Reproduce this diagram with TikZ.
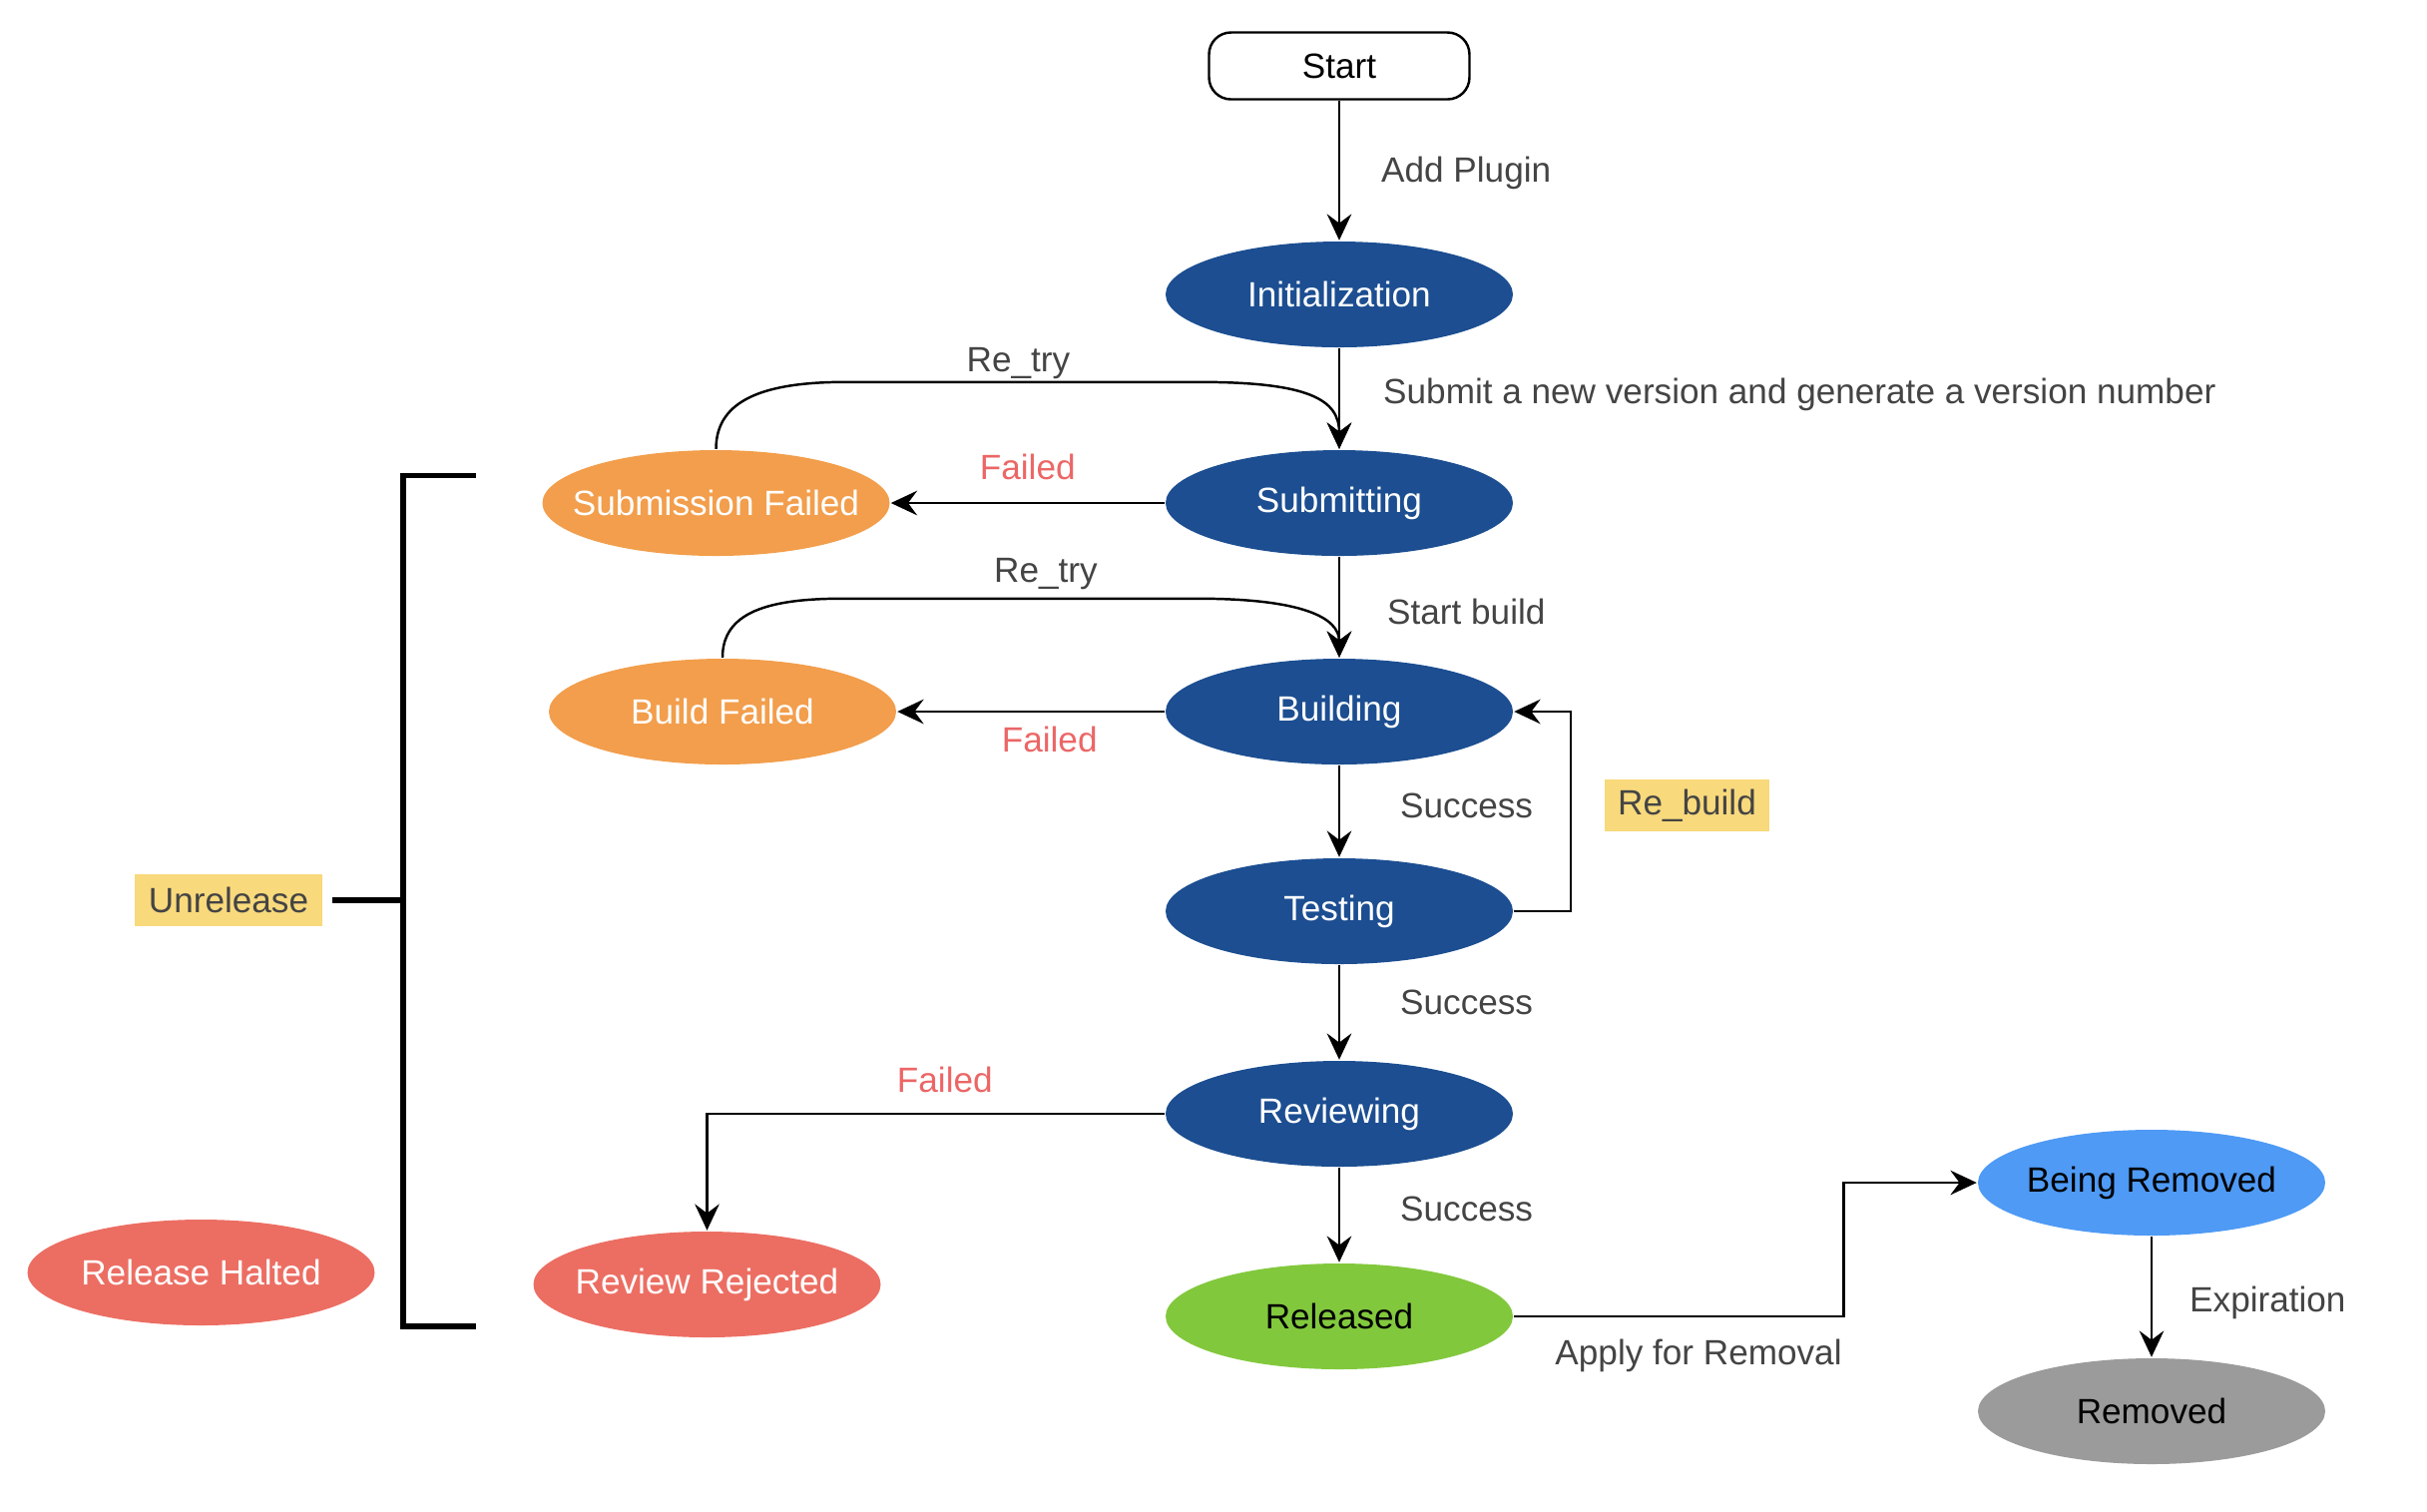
\documentclass[tikz,border=0pt]{standalone}
\usepackage{fontspec}
\setmainfont{Liberation Sans}
\usetikzlibrary{arrows.meta,positioning,shapes.geometric}

\definecolor{runblue}{HTML}{1C4E91}
\definecolor{failorange}{HTML}{F29E4C}
\definecolor{rejectred}{HTML}{EC6E63}
\definecolor{releasegreen}{HTML}{82C83D}
\definecolor{removeblue}{HTML}{4E9AF5}
\definecolor{removedgray}{HTML}{9B9B9B}
\definecolor{tagyellow}{HTML}{F8D97C}
\definecolor{labelgray}{HTML}{444444}
\definecolor{failred}{HTML}{EC6666}

\tikzset{
  state/.style={ellipse,minimum width=3.48cm,minimum height=1.06cm,inner xsep=-0.5cm,inner ysep=0pt,
    font=\fontsize{10}{12}\selectfont},
  running/.style={state,fill=runblue,text=white},
  failing/.style={state,fill=failorange,text=white},
  rejected/.style={state,fill=rejectred,text=white},
  released/.style={state,fill=releasegreen,text=black},
  removing/.style={state,fill=removeblue,text=black},
  gone/.style={state,fill=removedgray,text=black},
  startbox/.style={draw,rounded corners=0.22cm,minimum width=2.61cm,minimum height=0.67cm,
    inner sep=0pt,font=\fontsize{10}{12}\selectfont},
  tag/.style={fill=tagyellow,text=labelgray,minimum height=0.52cm,inner sep=0pt,
    font=\fontsize{10}{12}\selectfont},
  lbl/.style={on grid=false,inner sep=0pt,text=labelgray,font=\fontsize{10}{12}\selectfont},
  faillbl/.style={lbl,text=failred},
  flowline/.style={->},
  bracketline/.style={line width=1.5pt,line join=miter}
}

\begin{document}
\begin{tikzpicture}[>={Stealth[length=7.5pt,width=7pt,inset=2.6pt]},line width=0.7pt,node distance=2.09cm,on grid]
  \useasboundingbox (0,0) rectangle (24.32,-15.14);

  \node[startbox]  (start)     at (13.42,-0.66)                    {Start};
  \node[running]   (init)      [below =2.29cm of start]            {Initialization};
  \node[running]   (sub)       [below =of init]                    {Submitting};
  \node[running]   (build)     [below =of sub]                     {Building};
  \node[running]   (test)      [below =2cm of build]               {Testing};
  \node[running]   (rev)       [below =2.03cm of test]             {Reviewing};
  \node[released]  (rel)       [below =2.03cm of rev]              {Released};
  \node[failing]   (subfail)   [left =6.245cm of sub]              {Submission Failed};
  \node[failing]   (buildfail) [left =6.18cm of build]             {Build Failed};
  \node[rejected]  (revrej)    [below left =1.71cm and 6.335cm of rev] {Review Rejected};
  \node[rejected]  (halted)    [above left =0.12cm and 5.07cm of revrej] {Release Halted};
  \node[removing]  (br)        [above right =1.34cm and 8.14cm of rel] {Being Removed};
  \node[gone]      (rem)       [below =2.29cm of br]               {Removed};
  \node[tag,minimum width=1.88cm] (unrel)   at (2.29,-9.02)        {Unrelease};
  \node[tag,minimum width=1.65cm] (rebuild) at (16.905,-8.07)      {Re\_build};

\path (start) edge [flowline] node [lbl, right=0.41cm, yshift=-0.03cm] {Add Plugin} (init)
      (init)  edge [flowline] node [lbl, right=0.43cm, yshift=0.045cm] {Submit a new version and generate a version number} (sub)
      (sub)   edge [flowline] node [lbl, right=0.47cm, yshift=-0.045cm] {Start build} (build)
      (build) edge [flowline] node [lbl, right=0.6cm, yshift=0.06cm] {Success} (test)
      (test)  edge [flowline] node [lbl, right=0.6cm, yshift=0.1cm] {Success} (rev)
      (rev)   edge [flowline] node [lbl, right=0.6cm, yshift=0.06cm] {Success} (rel)
      (br)    edge [flowline] node [lbl, right=0.37cm, yshift=-0.06cm] {Expiration} (rem)
      (sub)   edge [flowline] node [faillbl, above=0.22cm] {Failed} (subfail)
      (build) edge [flowline] node [faillbl, pos=0.43, below=0.14cm] {Failed} (buildfail);

% retry loops
\draw[flowline] (subfail.north) .. controls +(0,0.5) and +(-0.8,0) .. ++(1.3,0.67)
      -- node [lbl, pos=0.49, above=0.02cm] {Re\_try} ++(3.53,0)
      .. controls +(1.1,0) and +(0,0.5) .. (sub.north);
\draw[flowline] (buildfail.north) .. controls +(0,0.45) and +(-0.75,0) .. ++(1.2,0.59)
      -- node [lbl, pos=0.573, above=0.08cm] {Re\_try} ++(3.56,0)
      .. controls +(1.05,0) and +(0,0.4) .. (build.north);

\draw[flowline] (test.east) -- ++(0.57,0) |- (build.east);
\draw[flowline] (rev.west) -| node [faillbl, pos=0.24, above=0.2cm] {Failed} (revrej.north);
\draw[flowline] (rel.east) -| node [lbl, pos=0.28, below=0.22cm] {Apply for Removal}
      ([xshift=-1.335cm]br.west) -- (br.west);

% bracket round the unreleased states
\coordinate (brtop) at (4.77,-4.765);
\coordinate (brbot) at (4.77,-13.29);
\draw[bracketline] (brtop) -- ++(-0.73,0) |- (brbot);
\draw[bracketline] ([xshift=0.09cm]unrel.east) -- ++(0.72,0);

\end{tikzpicture}
\end{document}
